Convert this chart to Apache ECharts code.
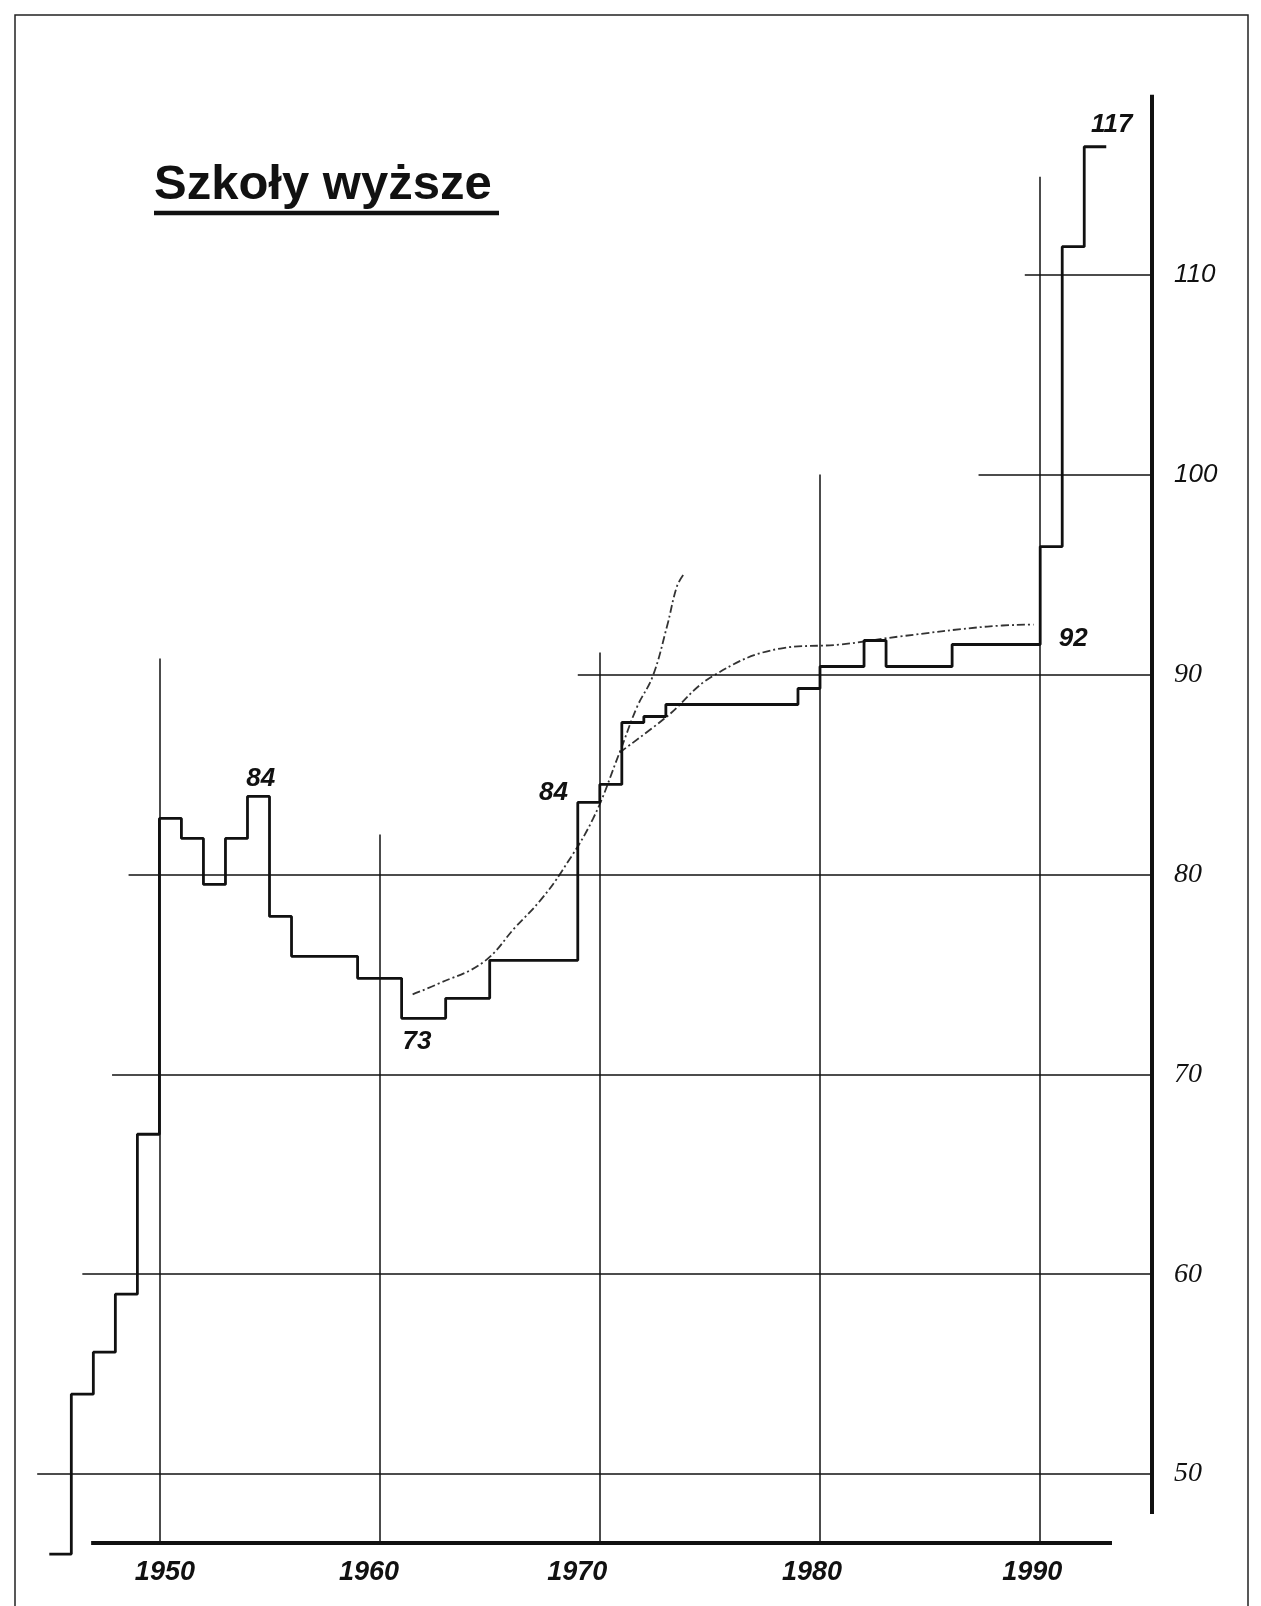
<!DOCTYPE html>
<html lang="pl">
<head>
<meta charset="utf-8">
<title>Szkoły wyższe</title>
<script src="https://cdn.jsdelivr.net/npm/echarts@6.0.0/dist/echarts.min.js"></script>
<style>
  html, body { margin: 0; padding: 0; background: #fff; }
  #chart { width: 1261px; height: 1606px; }
</style>
</head>
<body>
<div id="chart"></div>
<script>
// liczba szkół wyższych w kolejnych latach (odczyt z wykresu)
const years = [1945, 1946, 1947, 1948, 1949, 1950, 1951, 1952, 1953, 1954,
               1955, 1956, 1957, 1958, 1959, 1960, 1961, 1962, 1963, 1964,
               1965, 1966, 1967, 1968, 1969, 1970, 1971, 1972, 1973, 1974,
               1975, 1976, 1977, 1978, 1979, 1980, 1981, 1982, 1983, 1984,
               1985, 1986, 1987, 1988, 1989, 1990, 1991, 1992];
const schools = [46.0, 54.0, 56.1, 59.0, 67.0, 82.8, 81.8, 79.5, 81.8, 83.9,
                 77.9, 75.9, 75.9, 75.9, 74.8, 74.8, 72.8, 72.8, 73.8, 73.8,
                 75.7, 75.7, 75.7, 75.7, 83.6, 84.5, 87.6, 87.9, 88.5, 88.5,
                 88.5, 88.5, 88.5, 88.5, 89.3, 90.4, 90.4, 91.7, 90.4, 90.4,
                 90.4, 91.5, 91.5, 91.5, 91.5, 96.4, 111.4, 116.4];
const lastYearEnd = 1993;

// krzywe trendu (przerywane)
const trendFast = [[1961.5, 74.0], [1962.6, 74.5], [1964.7, 75.6], [1966.2, 77.4],
                   [1967.3, 78.7], [1968.3, 80.2], [1969.7, 82.8], [1970.9, 86.1],
                   [1971.7, 88.4], [1972.4, 89.9], [1973.05, 92.4], [1973.5, 94.4],
                   [1973.8, 95.0]];
const trendSlow = [[1970.9, 86.1], [1973.05, 87.9], [1975.1, 89.9], [1978.2, 91.3],
                   [1980.9, 91.5], [1983.6, 91.9], [1987.6, 92.4], [1989.7, 92.5]];

// opisy wartości
const notes = [[1954.6, 84.8, '84'], [1961.7, 71.6, '73'], [1967.9, 84.1, '84'],
               [1991.5, 91.8, '92'], [1993.25, 117.5, '117']];

const yearTicks = [1950, 1960, 1970, 1980, 1990];
const valueTicks = [50, 60, 70, 80, 90, 100, 110];

// zasięg linii siatki (jak na oryginale)
const vLineTops = [90.8, 82.0, 91.1, 100, 114.9];
const hLineStarts = [1944.45, 1946.5, 1947.85, 1948.6, 1969.0, 1987.2, 1989.3];
const axisYear = 1995.08;   // pionowa oś po prawej
const axisValue = 46.55;    // pozioma oś lat

const stepData = years.map((y, i) => [y, schools[i]]);
stepData.push([lastYearEnd, schools[schools.length - 1]]);

const thick = { color: '#111', width: 4, type: 'solid' };
const gridLines = [];
yearTicks.forEach((y, i) => gridLines.push([{ coord: [y, axisValue] }, { coord: [y, vLineTops[i]] }]));
valueTicks.forEach((v, i) => gridLines.push([{ coord: [hLineStarts[i], v] }, { coord: [axisYear, v] }]));
gridLines.push([{ coord: [1946.9, axisValue], lineStyle: thick }, { coord: [1993.26, axisValue], lineStyle: thick }]);
gridLines.push([{ coord: [axisYear, 48.0], lineStyle: thick }, { coord: [axisYear, 119.0], lineStyle: thick }]);

const sans = '"Liberation Sans", Arial, sans-serif';
const serif = '"Liberation Serif", "Times New Roman", serif';
const xShift = { 1950: 'a', 1960: 'b', 1970: 'c', 1980: 'd', 1990: 'd' };
const xLab = { fontFamily: sans, fontStyle: 'italic', fontWeight: 'bold', fontSize: 27, color: '#111' };

const chart = echarts.init(document.getElementById('chart'));
chart.setOption({
    backgroundColor: '#fff',
    animation: false,
    grid: { left: -60.8, right: 0.6, top: 74.8, bottom: -68, containLabel: false, outerBoundsMode: 'none' },
    xAxis: {
        type: 'value', min: 1940, max: 2000, interval: 10,
        position: 'bottom', offset: -131,
        axisLine: { show: false }, axisTick: { show: false }, splitLine: { show: false },
        axisLabel: {
            margin: 16,
            formatter: v => yearTicks.includes(v) ? '{' + xShift[v] + '|' + v + '}' : '',
            rich: {
                a: Object.assign({ padding: [0, 0, 0, 11] }, xLab),
                b: Object.assign({ padding: [0, 21, 0, 0] }, xLab),
                c: Object.assign({ padding: [0, 45, 0, 0] }, xLab),
                d: Object.assign({ padding: [0, 16, 0, 0] }, xLab)
            }
        }
    },
    yAxis: {
        type: 'value', min: 40, max: 120, interval: 10,
        position: 'right', offset: -108.4,
        axisLine: { show: false }, axisTick: { show: false }, splitLine: { show: false },
        axisLabel: {
            margin: 22,
            formatter: v => v >= 100 && v <= 110 ? '{s|' + v + '}' : (valueTicks.includes(v) ? '{r|' + v + '}' : ''),
            rich: {
                r: { fontFamily: serif, fontStyle: 'italic', fontSize: 28, color: '#111' },
                s: { fontFamily: sans, fontStyle: 'italic', fontSize: 26, color: '#111' }
            }
        }
    },
    graphic: [
        { type: 'rect', silent: true, shape: { x: 15, y: 15, width: 1233, height: 1600 },
          style: { fill: 'none', stroke: '#222', lineWidth: 1.5 } },
        { type: 'text', x: 154, y: 185, silent: true,
          style: { text: 'Szkoły wyższe', font: 'bold 49px ' + sans, fill: '#111', verticalAlign: 'middle' } },
        { type: 'line', silent: true, shape: { x1: 154, y1: 213, x2: 499, y2: 213 },
          style: { stroke: '#111', lineWidth: 4.5 } }
    ],
    series: [
        {
            name: 'siatka', type: 'line', data: [], silent: true,
            markLine: {
                silent: true, symbol: ['none', 'none'], animation: false,
                label: { show: false },
                lineStyle: { color: '#111', width: 1.5, type: 'solid' },
                data: gridLines
            }
        },
        {
            name: 'trend1', type: 'line', data: trendFast, smooth: 0.4, showSymbol: false, silent: true,
            lineStyle: { color: '#333', width: 1.8, type: [8, 3, 2, 3] }
        },
        {
            name: 'trend2', type: 'line', data: trendSlow, smooth: 0.4, showSymbol: false, silent: true,
            lineStyle: { color: '#333', width: 1.8, type: [8, 3, 2, 3] }
        },
        {
            name: 'Szkoły wyższe', type: 'line', step: 'end', data: stepData, showSymbol: false,
            lineStyle: { color: '#111', width: 2.8 }, z: 3
        },
        {
            name: 'opisy', type: 'scatter', data: notes, symbolSize: 0, silent: true,
            itemStyle: { color: '#111', opacity: 1 },
            label: {
                show: true, position: 'inside', formatter: p => p.data[2],
                fontFamily: sans, fontStyle: 'italic', fontWeight: 'bold', fontSize: 26,
                color: '#111', opacity: 1
            }
        }
    ]
});
</script>
</body>
</html>
